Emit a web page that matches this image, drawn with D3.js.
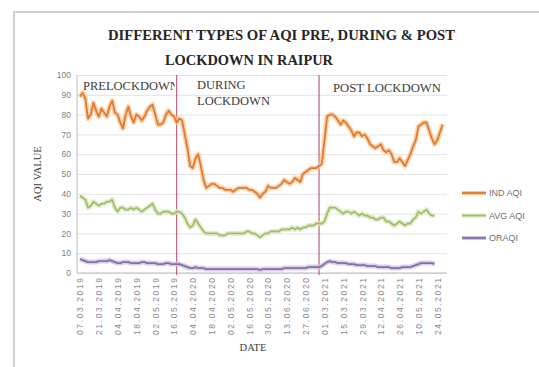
<!DOCTYPE html>
<html>
<head>
<meta charset="utf-8">
<script src="https://cdn.jsdelivr.net/npm/d3@7"></script>
<style>
  body { margin: 0; background: #fff; }
  .serif { font-family: "Liberation Serif", "Times New Roman", serif; }
  .sans { font-family: "Liberation Sans", Arial, sans-serif; }
</style>
</head>
<body>
<div id="container"></div>
<script>
const container = d3.select('#container')

// tick labels, one every 7th point (points are 2 days apart)
const tickLabels = [
    "07.03.2019", "21.03.2019", "04.04.2019", "18.04.2019", "02.05.2019", "16.05.2019",
    "04.04.2020", "18.04.2020", "02.05.2020", "16.05.2020", "30.05.2020", "13.06.2020", "27.06.2020",
    "01.03.2021", "15.03.2021", "29.03.2021", "12.04.2021", "26.04.2021", "10.05.2021", "24.05.2021"
];
const tickEvery = 7;

const indAqi = [
    89, 91, 88, 78, 80, 86, 82, 79, 83, 81, 79, 84, 87, 81, 80, 76, 73, 80, 84, 79,
    76, 80, 79, 77, 79, 82, 84, 85, 80, 75, 75, 76, 80, 82, 80, 79, 76, 78, 77, 70,
    63, 54, 53, 58, 60, 54, 47, 43, 44, 45, 45, 44, 43, 43, 42, 42, 42, 41, 42, 43,
    43, 43, 43, 42, 42, 41, 40, 38, 40, 41, 44, 43, 43, 43, 44, 45, 47, 46, 45, 46,
    48, 47, 46, 50, 51, 52, 53, 53, 53, 54, 55, 67, 79, 80, 80, 79, 77, 75, 77, 76,
    74, 72, 69, 71, 71, 69, 70, 68, 65, 64, 63, 64, 65, 62, 61, 62, 60, 56, 56, 58,
    56, 54, 57, 60, 64, 67, 74, 75, 76, 76, 72, 68, 65, 67, 71, 75
];

const avgAqi = [
    39, 38, 37, 33, 34, 36, 35, 34, 35, 35, 36, 36, 37, 33, 31, 33, 33, 32, 32, 33,
    32, 33, 32, 31, 32, 33, 34, 35, 32, 30, 30, 31, 31, 31, 30, 30, 31, 31, 30, 28,
    25, 23, 24, 27, 25, 23, 21, 20, 20, 20, 20, 20, 19, 19, 19, 20, 20, 20, 20, 20,
    20, 20, 21, 21, 20, 20, 19, 18, 19, 20, 20, 21, 21, 21, 21, 22, 22, 22, 22, 23,
    22, 23, 22, 23, 23, 24, 24, 24, 25, 25, 25, 26, 30, 33, 33, 33, 32, 31, 30, 31,
    31, 30, 31, 30, 29, 30, 29, 29, 28, 28, 27, 27, 28, 28, 26, 26, 25, 24, 25, 26,
    25, 24, 25, 25, 27, 28, 31, 30, 31, 32, 30, 29, 29, null, null, null
];

const orAqi = [
    7, 6.5, 6, 5.5, 5.5, 5.5, 5.5, 6, 6, 6, 6, 6.5, 6, 5.5, 5, 5, 5.5, 5.5, 5.5, 5,
    5, 5, 5, 5.5, 5.5, 5, 5, 5, 5, 4.5, 4.5, 4.5, 5, 5, 4.5, 4.5, 4.5, 4.5, 4, 3.5,
    3, 2.5, 2.5, 3, 2.5, 2.5, 2.5, 2, 2, 2, 2, 2, 2, 2, 2, 2, 2, 2, 2, 2,
    2, 2, 2, 2, 2, 2, 2, 1.5, 2, 2, 2, 2, 2, 2, 2, 2, 2.5, 2.5, 2.5, 2.5,
    2.5, 2.5, 2.5, 2.5, 2.5, 3, 3, 3, 3, 3, 3.5, 4.5, 5.5, 6, 5.5, 5.5, 5, 5, 5, 5,
    4.5, 4.5, 4.5, 4, 4, 4, 4, 3.5, 3.5, 3.5, 3.5, 3, 3, 3, 3, 3, 2.5, 2.5, 2.5, 2.5,
    3, 3, 3, 3, 3.5, 4, 4.5, 5, 5, 5, 5, 5, 4.5, null, null, null
];

const seriesNames = ["IND AQI", "AVG AQI", "ORAQI"];
const seriesColors = ["#e27a2c", "#a2bd68", "#8470a8"];
const glowColors = ["#f7c79c", "#dbe8c0", "#cdc3df"];

// last index of each period
const periodEnds = [36, 89];
const yTicks = d3.range(0, 101, 10);

var width = 539,
    height = 367;

const svg = container
    .append('svg')
        .attr('width', width)
        .attr('height', height);

// outer chart frame (cut off at right and bottom)
svg.append('path')
    .attr('d', d3.line()([[14, height], [14, 12], [width, 12]]))
    .attr('stroke', '#cfcfcf')
    .attr('stroke-width', 2)
    .attr('fill', 'none');

var plotL = 77, plotR = 447, plotT = 75, plotB = 273;

var x = d3.scalePoint()
    .domain(d3.range(indAqi.length))
    .range([80, 442.6]);

var y = d3.scaleLinear()
    .domain([0, 100])
    .range([plotB, plotT]);

// grid + y axis labels
const yAxis = svg.append('g')
    .attr('transform', `translate(${plotL},0)`)
    .call(d3.axisLeft(y).tickValues(yTicks).tickSize(-(plotR - plotL)).tickPadding(6));
yAxis.select('.domain').remove();
yAxis.selectAll('.tick line').attr('stroke', '#e3e3e3');
yAxis.selectAll('.tick text')
    .attr('class', 'sans')
    .attr('fill', '#808080')
    .style('font-size', '8.5px');

// y axis line and x axis line
svg.append('path')
    .attr('d', d3.line()([[plotL, plotT], [plotL, plotB], [plotR, plotB]]))
    .attr('stroke', '#bdbdbd')
    .attr('fill', 'none');

// x axis tick labels
const xAxis = svg.append('g')
    .attr('transform', `translate(0,${plotB})`)
    .call(d3.axisBottom(x)
        .tickValues(tickLabels.map((d, i) => i * tickEvery))
        .tickFormat((d, i) => tickLabels[i])
        .tickSize(0));
xAxis.select('.domain').remove();
xAxis.selectAll('.tick text')
    .attr('class', 'sans')
    .attr('fill', '#8a8a8a')
    .style('font-size', '8.5px')
    .attr('text-anchor', 'end')
    .attr('transform', 'rotate(-90)')
    .attr('x', -5)
    .attr('y', 0)
    .attr('dy', '0.35em')
    .attr('textLength', 57)
    .attr('lengthAdjust', 'spacing');

// period separators
periodEnds.forEach(i => {
    svg.append('path')
        .attr('d', d3.line()([[x(i), plotT], [x(i), plotB + 2]]))
        .attr('stroke', '#b5475f')
        .attr('stroke-width', 1)
        .attr('fill', 'none');
});

// lines
const line = d3.line()
    .defined(d => d != null)
    .x((d, i) => x(i))
    .y(d => y(d));

[indAqi, avgAqi, orAqi].forEach((data, k) => {
    svg.append('path')
        .datum(data)
        .attr('d', line)
        .attr('fill', 'none')
        .attr('stroke', glowColors[k])
        .attr('stroke-width', 5)
        .attr('stroke-linejoin', 'round')
        .attr('opacity', 0.8);
    svg.append('path')
        .datum(data)
        .attr('d', line)
        .attr('fill', 'none')
        .attr('stroke', seriesColors[k])
        .attr('stroke-width', 1.8)
        .attr('stroke-linejoin', 'round');
});

// period texts
const periods = svg.append('g').attr('class', 'serif').attr('fill', '#404040').style('font-size', '12.5px');

svg.append('clipPath').attr('id', 'preclip')
    .append('rect').attr('x', plotL).attr('y', plotT).attr('width', x(periodEnds[0]) - plotL - 2).attr('height', 40);

periods.append('text').attr('x', 83).attr('y', 90).attr('clip-path', 'url(#preclip)').text('PRELOCKDOWN');
periods.append('text').attr('x', 197).attr('y', 89).text('DURING');
periods.append('text').attr('x', 197).attr('y', 105).text('LOCKDOWN');
periods.append('text').attr('x', 333).attr('y', 92).attr('textLength', 108).attr('lengthAdjust', 'spacingAndGlyphs').text('POST LOCKDOWN');

// title
const title = svg.append('g').attr('class', 'serif').attr('fill', '#262626')
    .style('font-size', '14px').style('font-weight', 'bold');
title.append('text').attr('x', 108).attr('y', 40)
    .attr('textLength', 347).attr('lengthAdjust', 'spacingAndGlyphs')
    .text('DIFFERENT  TYPES OF AQI PRE, DURING & POST');
title.append('text').attr('x', 165).attr('y', 65)
    .attr('textLength', 168).attr('lengthAdjust', 'spacingAndGlyphs')
    .text('LOCKDOWN  IN RAIPUR');

// axis titles
svg.append('text')
    .attr('class', 'serif')
    .attr('fill', '#404040')
    .style('font-size', '10.5px')
    .attr('text-anchor', 'middle')
    .attr('transform', `translate(41,${(plotT + plotB) / 2}) rotate(-90)`)
    .text('AQI VALUE');

svg.append('text')
    .attr('class', 'serif')
    .attr('fill', '#404040')
    .style('font-size', '10.5px')
    .attr('text-anchor', 'middle')
    .attr('x', 253)
    .attr('y', 351)
    .text('DATE');

// legend
const legend = svg.append('g').attr('class', 'sans');
seriesNames.forEach((name, k) => {
    var ly = 193 + k * 22.5;
    legend.append('path')
        .attr('d', d3.line()([[462, ly], [486, ly]]))
        .attr('stroke', glowColors[k])
        .attr('stroke-width', 4);
    legend.append('path')
        .attr('d', d3.line()([[462, ly], [486, ly]]))
        .attr('stroke', seriesColors[k])
        .attr('stroke-width', 1.8);
    legend.append('text')
        .attr('x', 489)
        .attr('y', ly)
        .attr('dy', '0.35em')
        .attr('fill', '#6f6f6f')
        .style('font-size', '9px')
        .text(name);
});
</script>
</body>
</html>
